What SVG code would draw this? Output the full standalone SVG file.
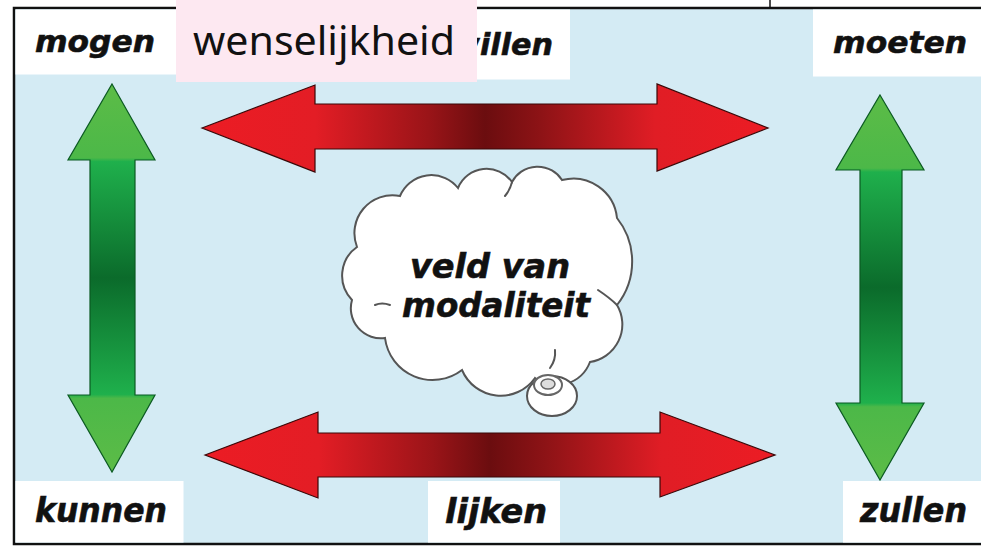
<svg xmlns="http://www.w3.org/2000/svg" width="981" height="546" viewBox="0 0 981 546">
<defs>
<linearGradient id="redG" x1="0" y1="0" x2="1" y2="0">
<stop offset="0" stop-color="#ec1c24"/>
<stop offset="0.2" stop-color="#e31d25"/>
<stop offset="0.4" stop-color="#9a1418"/>
<stop offset="0.5" stop-color="#6b0d0f"/>
<stop offset="0.6" stop-color="#8e1316"/>
<stop offset="0.8" stop-color="#e01d25"/>
<stop offset="1" stop-color="#ec1c24"/>
</linearGradient>
<linearGradient id="greenG" x1="0" y1="0" x2="0" y2="1">
<stop offset="0" stop-color="#5cbc47"/>
<stop offset="0.19" stop-color="#4cb848"/>
<stop offset="0.2" stop-color="#1fb04c"/>
<stop offset="0.5" stop-color="#0b6b2b"/>
<stop offset="0.8" stop-color="#1fb04c"/>
<stop offset="0.81" stop-color="#4cb848"/>
<stop offset="1" stop-color="#5cbc47"/>
</linearGradient>
<style>
.box{fill:#ffffff}
.lbl{font-family:"DejaVu Sans",Verdana,sans-serif;font-weight:bold;font-style:italic;fill:#111;stroke:#111;stroke-width:0.6}
.red{fill:url(#redG);stroke:#3a0808;stroke-width:1.2;stroke-linejoin:miter}
.green{fill:url(#greenG);stroke:#0b5a22;stroke-width:1.2}
.cloud{fill:#ffffff;stroke:#555;stroke-width:2}
.crease{fill:none;stroke:#555;stroke-width:2;stroke-linecap:round}
</style>
</defs>
<rect x="0" y="0" width="981" height="546" fill="#ffffff"/>
<rect x="14" y="8" width="980" height="536" fill="#d4ebf4" stroke="#111" stroke-width="2.5"/>
<line x1="770" y1="0" x2="770" y2="8" stroke="#111" stroke-width="1.5"/>

<g id="mogen"><rect class="box" x="15.5" y="9.5" width="165" height="65"/><text class="lbl" x="35" y="52" font-size="31" textLength="120" lengthAdjust="spacingAndGlyphs">mogen</text></g>
<g id="willen"><rect class="box" x="440" y="9.5" width="130" height="70"/><text class="lbl" x="452" y="55" font-size="31" textLength="101" lengthAdjust="spacingAndGlyphs">willen</text></g>
<g id="moeten"><rect class="box" x="813" y="9.5" width="168" height="67"/><text class="lbl" x="833" y="53" font-size="31" textLength="134" lengthAdjust="spacingAndGlyphs">moeten</text></g>
<g id="kunnen"><rect class="box" x="15.5" y="481" width="168" height="61.5"/><text class="lbl" x="35" y="522" font-size="33" textLength="132" lengthAdjust="spacingAndGlyphs">kunnen</text></g>
<g id="lijken"><rect class="box" x="428" y="481" width="132" height="61.5"/><text class="lbl" x="445" y="523" font-size="33" textLength="102" lengthAdjust="spacingAndGlyphs">lijken</text></g>
<g id="zullen"><rect class="box" x="843" y="481" width="138" height="61.5"/><text class="lbl" x="860" y="522" font-size="33" textLength="107" lengthAdjust="spacingAndGlyphs">zullen</text></g>

<g id="connectors">
<path class="red" d="M202,128 L315,85 L315,104 L657,104 L657,84 L768,128 L657,171 L657,149 L315,149 L315,172 Z"/>
<path class="red" d="M205,455 L318,412 L318,433 L660,433 L660,412 L775,455 L660,497 L660,477 L318,477 L318,498 Z"/>
<path class="green" d="M112,84 L155,160 L135,160 L135,395 L155,395 L112,472 L68,395 L90,395 L90,160 L68,160 Z"/>
<path class="green" d="M880,95 L924,170 L902,170 L902,403 L924,403 L880,480 L836,403 L860,403 L860,170 L836,170 Z"/>
</g>

<g id="cloud">
<path class="cloud" d="M357,247 A38,38 0 0 1 400,196 A34,34 0 0 1 458,188 A31,31 0 0 1 512,182 A29,29 0 0 1 562,180 A44,44 0 0 1 617,218 A70,70 0 0 1 617,305 A38,38 0 0 1 590,362 A36,36 0 0 1 535,378 A42,42 0 0 1 462,370 A48,48 0 0 1 385,338 A30,30 0 0 1 352,300 A35,35 0 0 1 357,247 Z"/>
<path class="crease" d="M512,182 Q510,190 505,196"/>
<path class="crease" d="M375,305 Q382,302 390,305"/>
<path class="crease" d="M598,290 Q610,298 617,305"/>
<path class="crease" d="M555,350 Q556,360 550,368"/>
<ellipse class="cloud" cx="552" cy="396" rx="25" ry="20"/>
<ellipse cx="548" cy="385" rx="14" ry="10" fill="#fff" stroke="#666" stroke-width="2"/>
<ellipse cx="548" cy="384" rx="7" ry="5" fill="#ddd" stroke="#666" stroke-width="1.5"/>
<text class="lbl" x="410" y="278" font-size="33" textLength="160" lengthAdjust="spacingAndGlyphs">veld van</text>
<text class="lbl" x="402" y="317" font-size="33" textLength="188" lengthAdjust="spacingAndGlyphs">modaliteit</text>
</g>

<g id="wenselijkheid"><rect x="176" y="0" width="301" height="82" fill="#fde8f1"/><text x="193" y="55" font-family="'Noto Sans','Open Sans',sans-serif" font-size="40" fill="#111" textLength="262" lengthAdjust="spacingAndGlyphs">wenselijkheid</text></g>
</svg>
